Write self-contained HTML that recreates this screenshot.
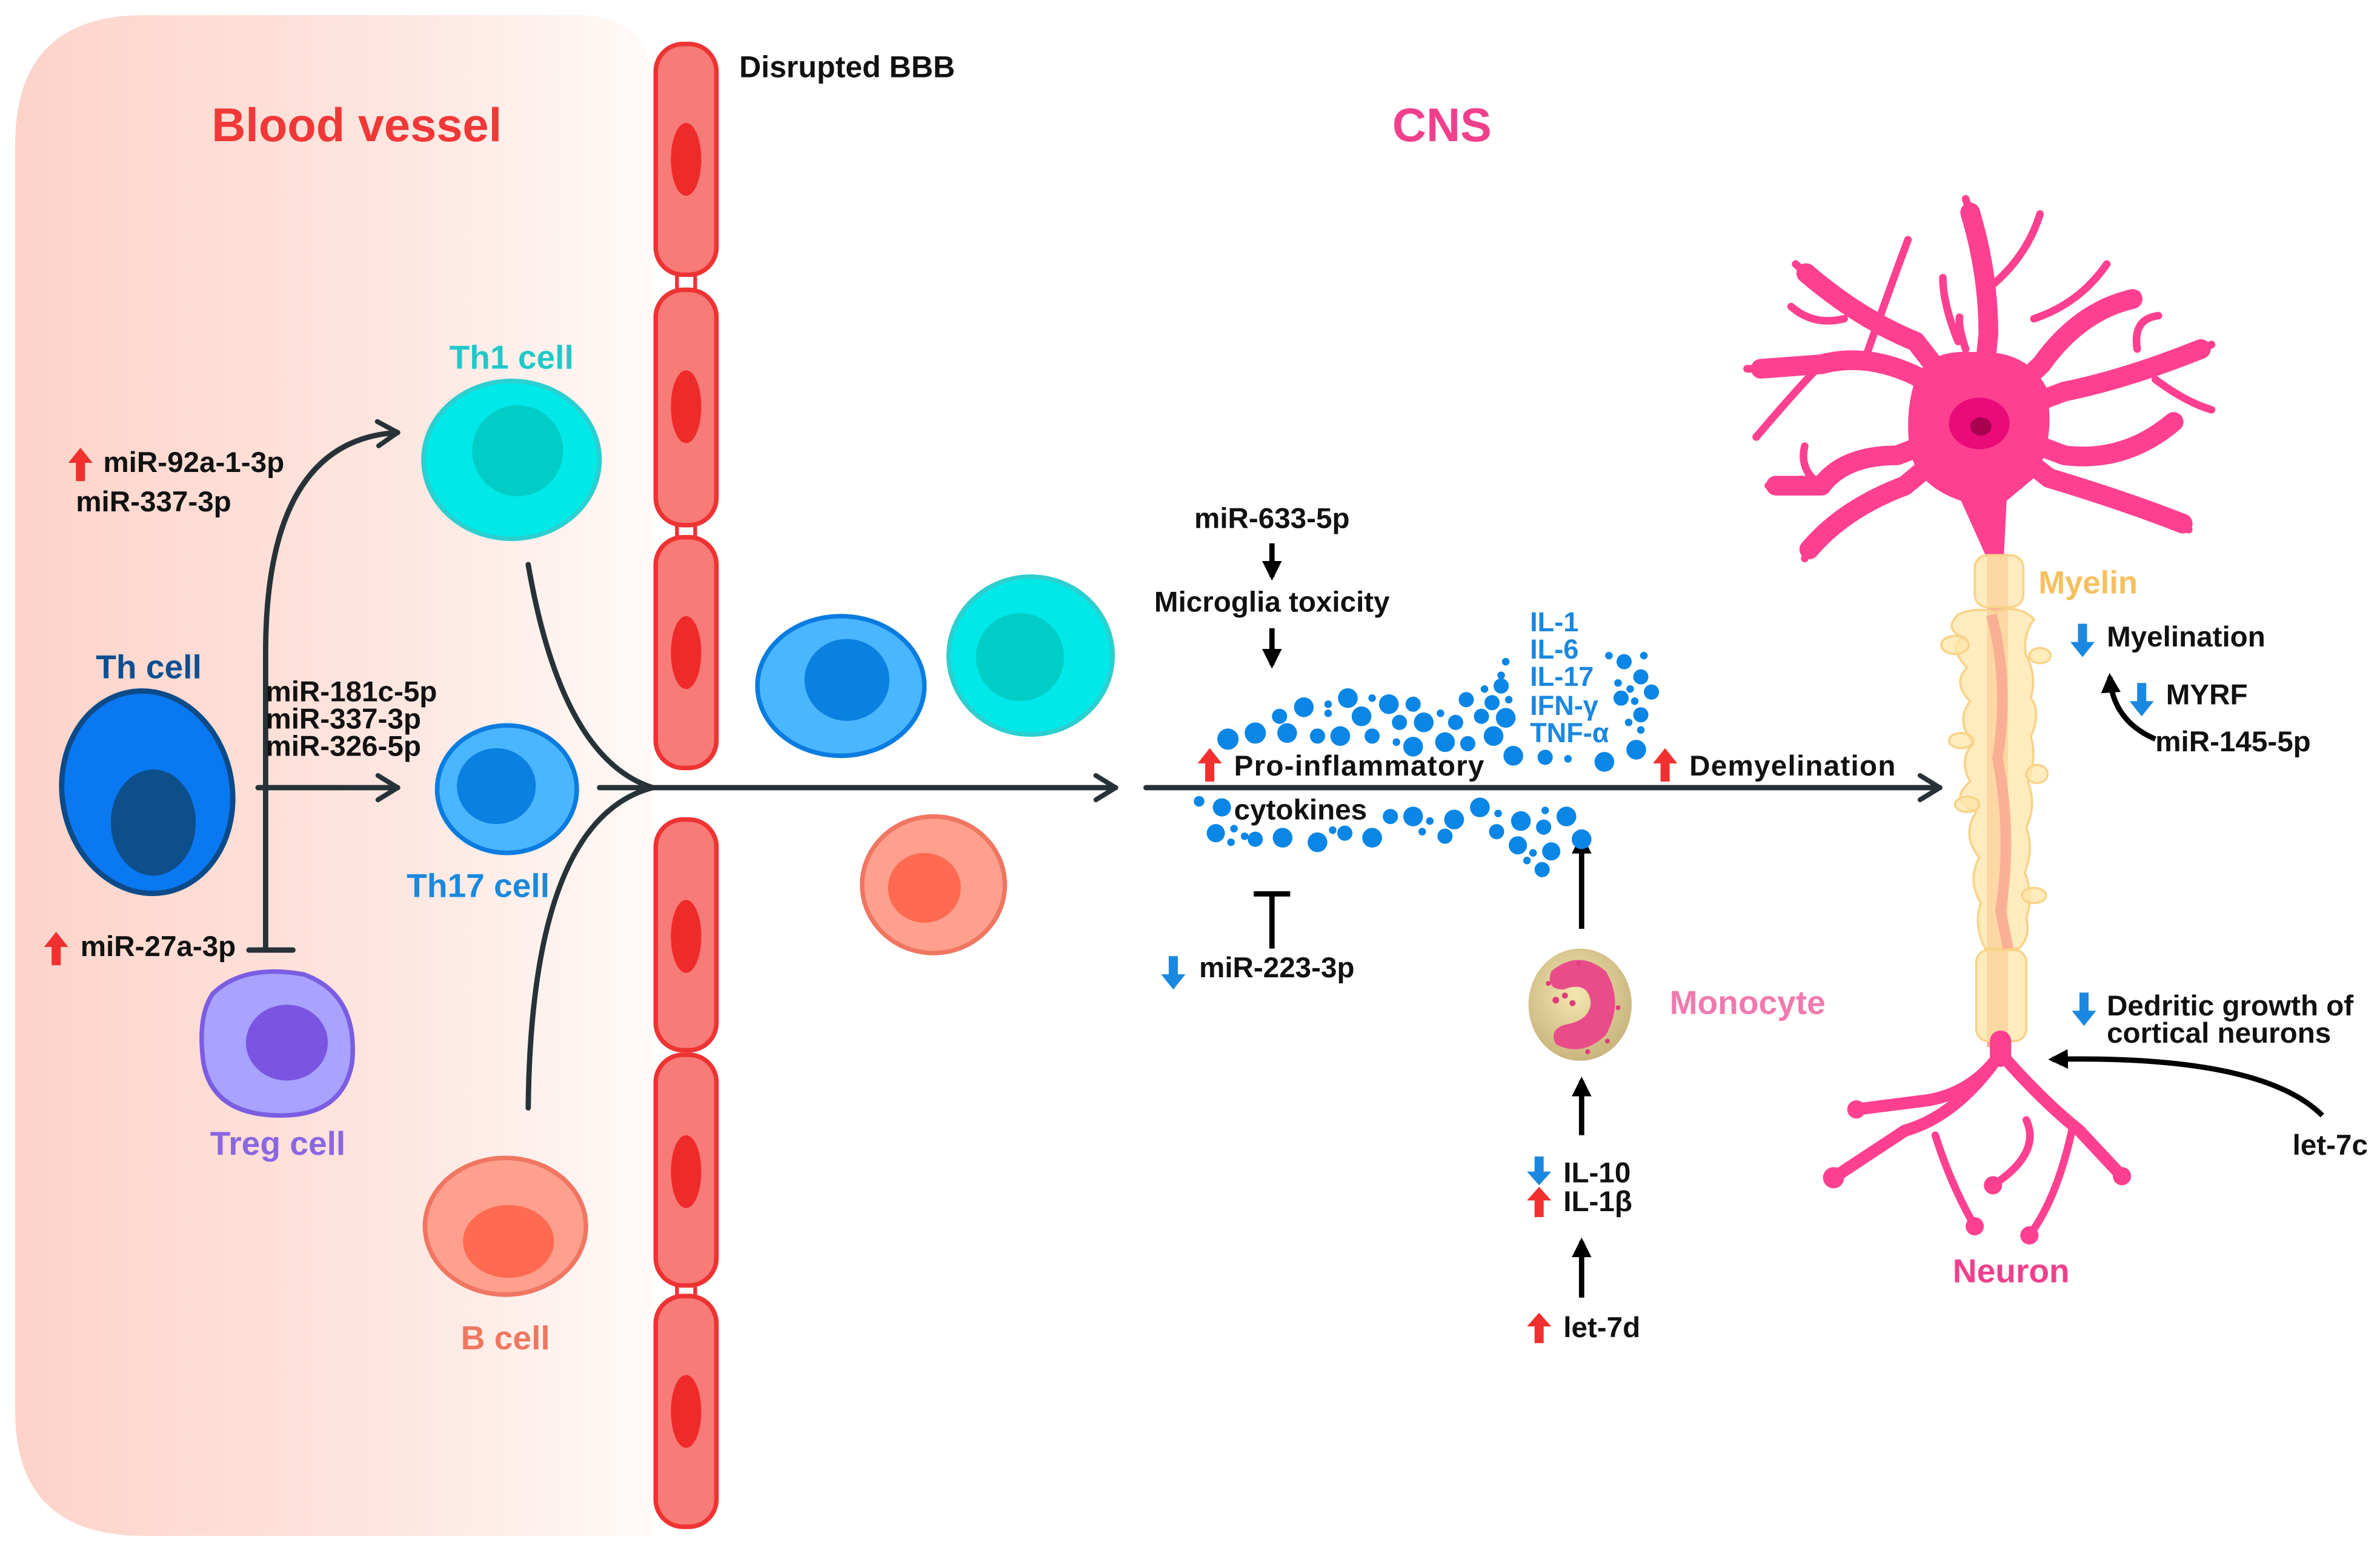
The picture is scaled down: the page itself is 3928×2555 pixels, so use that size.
<!DOCTYPE html>
<html><head><meta charset="utf-8"><style>
html,body{margin:0;padding:0;background:#fff}
svg{display:block}
text{font-family:"Liberation Sans",sans-serif;font-weight:bold}
</style></head><body>
<svg width="3928" height="2555" viewBox="0 0 1568 1020" preserveAspectRatio="none" xmlns="http://www.w3.org/2000/svg">
<defs>
<linearGradient id="bv" x1="0" x2="1" y1="0" y2="0">
<stop offset="0" stop-color="#fdd3c9"/><stop offset="0.6" stop-color="#fee6e0"/><stop offset="1" stop-color="#fffaf8"/>
</linearGradient>
<radialGradient id="mono" cx="0.45" cy="0.4" r="0.6">
<stop offset="0" stop-color="#f5e6b0"/><stop offset="1" stop-color="#c9b57e"/>
</radialGradient>
<marker id="open" viewBox="0 0 20 20" refX="16" refY="10" markerWidth="20" markerHeight="20" markerUnits="userSpaceOnUse" orient="auto">
<path d="M3,2 L16,10 L3,18" fill="none" stroke="#263238" stroke-width="3.2" stroke-linecap="round" stroke-linejoin="round"/>
</marker>
<marker id="tri" viewBox="0 0 10 10" refX="8" refY="5" markerWidth="13" markerHeight="13" markerUnits="userSpaceOnUse" orient="auto">
<path d="M0,0 L10,5 L0,10 z" fill="#000"/>
</marker>
</defs>

<path d="M10,95 Q10,10 95,10 L380,10 Q430,10 430,60 L430,1012 L95,1012 Q10,1012 10,930 Z" fill="url(#bv)"/>

<g fill="#f77b77" stroke="#ee3333" stroke-width="3">
<rect x="432" y="29" width="40" height="152" rx="18"/>
<rect x="432" y="191" width="40" height="155" rx="18"/>
<rect x="432" y="354" width="40" height="152" rx="18"/>
<rect x="432" y="540" width="40" height="152" rx="18"/>
<rect x="432" y="695" width="40" height="152" rx="18"/>
<rect x="432" y="854" width="40" height="152" rx="18"/>
</g>
<g stroke="#ee3333" stroke-width="2.5" fill="none">
<path d="M446,181 V191 M458,181 V191 M446,346 V354 M458,346 V354 M446,847 V854 M458,847 V854"/>
</g>
<g fill="#ee2a2a">
<ellipse cx="452" cy="105" rx="10" ry="24"/><ellipse cx="452" cy="268" rx="10" ry="24"/>
<ellipse cx="452" cy="430" rx="10" ry="24"/><ellipse cx="452" cy="617" rx="10" ry="24"/>
<ellipse cx="452" cy="772" rx="10" ry="24"/><ellipse cx="452" cy="930" rx="10" ry="24"/>
</g>

<text x="235" y="93" font-size="31" fill="#f03838" text-anchor="middle">Blood vessel</text>
<text x="487" y="51" font-size="20" fill="#111">Disrupted BBB</text>
<text x="950" y="93" font-size="31" fill="#f0408c" text-anchor="middle">CNS</text>

<ellipse cx="337" cy="303" rx="58" ry="52" fill="#00e8e8" stroke="#2ccfcf" stroke-width="3"/>
<ellipse cx="341" cy="297" rx="30" ry="30" fill="#00cdc6"/>
<text x="337" y="243" font-size="22" fill="#22c8c8" text-anchor="middle">Th1 cell</text>

<ellipse cx="334" cy="520" rx="46" ry="42" fill="#4ab6ff" stroke="#0a7ce0" stroke-width="3"/>
<ellipse cx="327" cy="518" rx="26" ry="25" fill="#0a80e0"/>
<text x="315" y="591" font-size="22" fill="#1a88dd" text-anchor="middle">Th17 cell</text>

<ellipse cx="97" cy="522" rx="56" ry="67" transform="rotate(-10 97 522)" fill="#0a78f0" stroke="#0c4a88" stroke-width="3.5"/>
<ellipse cx="101" cy="542" rx="28" ry="35" fill="#0c4f8a"/>
<text x="98" y="447" font-size="22" fill="#0d4f90" text-anchor="middle">Th cell</text>

<path d="M140,655 Q160,635 200,642 Q236,655 232,700 Q226,735 185,735 Q140,735 134,700 Q130,670 140,655 Z" fill="#a9a2ff" stroke="#7b5de2" stroke-width="3"/>
<ellipse cx="189" cy="687" rx="27" ry="25" fill="#7a55e2"/>
<text x="183" y="761" font-size="22" fill="#8a66e2" text-anchor="middle">Treg cell</text>

<ellipse cx="333" cy="808" rx="53" ry="45" fill="#ffa08e" stroke="#f07662" stroke-width="3"/>
<ellipse cx="335" cy="818" rx="30" ry="24" fill="#ff6a50"/>
<text x="333" y="889" font-size="22" fill="#f07660" text-anchor="middle">B cell</text>

<ellipse cx="554" cy="452" rx="55" ry="46" fill="#4ab6ff" stroke="#0a7ce0" stroke-width="3"/>
<ellipse cx="558" cy="448" rx="28" ry="27" fill="#0a80e0"/>
<ellipse cx="679" cy="432" rx="54" ry="52" fill="#00e8e8" stroke="#2ccfcf" stroke-width="3"/>
<ellipse cx="672" cy="433" rx="29" ry="29" fill="#00cdc6"/>
<ellipse cx="615" cy="583" rx="47" ry="45" fill="#ffa08e" stroke="#f07662" stroke-width="3"/>
<ellipse cx="609" cy="585" rx="24" ry="23" fill="#ff6a50"/>

<g fill="none" stroke="#263238" stroke-width="3.5" stroke-linecap="round">
<path d="M170,519 H262" marker-end="url(#open)"/>
<path d="M175,625 L175,430 Q175,290 262,285" marker-end="url(#open)"/>
<path d="M164,626 H193"/>
<path d="M348,372 Q370,500 430,519"/>
<path d="M348,730 Q350,540 430,519"/>
<path d="M395,519 H735" marker-end="url(#open)"/>
<path d="M755,519 H1278" marker-end="url(#open)"/>
</g>

<g fill="#f23030">
<path d="M50,317 V305 H45 L53,295 L61,305 H56 V317 Z"/>
<path d="M34,636 V624 H29 L37,614 L45,624 H40 V636 Z"/>
<path d="M794,515 V503 H789 L797,493 L805,503 H800 V515 Z"/>
<path d="M1094,515 V503 H1089 L1097,493 L1105,503 H1100 V515 Z"/>
<path d="M1011,802 V791 H1006 L1014,782 L1022,791 H1017 V802 Z"/>
<path d="M1011,885 V874 H1006 L1014,865 L1022,874 H1017 V885 Z"/>
</g>
<g fill="#1a88e0">
<path d="M770,630 V642 H765 L773,652 L781,642 H776 V630 Z"/>
<path d="M1369,411 V423 H1364 L1372,433 L1380,423 H1375 V411 Z"/>
<path d="M1408,450 V462 H1403 L1411,472 L1419,462 H1414 V450 Z"/>
<path d="M1370,654 V666 H1365 L1373,676 L1381,666 H1376 V654 Z"/>
<path d="M1011,762 V772 H1006 L1014,781 L1022,772 H1017 V762 Z"/>
</g>

<g font-size="19" fill="#111">
<text x="68" y="311">miR-92a-1-3p</text>
<text x="50" y="337">miR-337-3p</text>
<text x="175" y="462">miR-181c-5p</text>
<text x="175" y="480">miR-337-3p</text>
<text x="175" y="498">miR-326-5p</text>
<text x="53" y="630">miR-27a-3p</text>
<text x="838" y="348" text-anchor="middle">miR-633-5p</text>
<text x="838" y="403" text-anchor="middle">Microglia toxicity</text>
<text x="813" y="511" letter-spacing="0.5">Pro-inflammatory</text>
<text x="813" y="540">cytokines</text>
<text x="1113" y="511" letter-spacing="0.5">Demyelination</text>
<text x="790" y="644">miR-223-3p</text>
<text x="1030" y="779">IL-10</text>
<text x="1030" y="798">IL-1β</text>
<text x="1030" y="881">let-7d</text>
<text x="1388" y="426">Myelination</text>
<text x="1427" y="464">MYRF</text>
<text x="1420" y="495">miR-145-5p</text>
<text x="1388" y="669">Dedritic growth of</text>
<text x="1388" y="687">cortical neurons</text>
<text x="1560" y="761" text-anchor="end">let-7c</text>
</g>
<g font-size="18" fill="#1a88e0">
<text x="1008" y="416">IL-1</text>
<text x="1008" y="434">IL-6</text>
<text x="1008" y="452">IL-17</text>
<text x="1008" y="471">IFN-γ</text>
<text x="1008" y="489">TNF-α</text>
</g>
<text x="1100" y="668" font-size="22" fill="#f07aae">Monocyte</text>
<text x="1343" y="391" font-size="21" fill="#f6c060">Myelin</text>
<text x="1325" y="845" font-size="22" fill="#f0408c" text-anchor="middle">Neuron</text>

<g stroke="#000" stroke-width="3.5" fill="none">
<path d="M838,358 V380" marker-end="url(#tri)"/>
<path d="M838,414 V438" marker-end="url(#tri)"/>
<path d="M838,625 V589 M826,589 H850"/>
<path d="M1042,612 V552" marker-end="url(#tri)"/>
<path d="M1042,748 V712" marker-end="url(#tri)"/>
<path d="M1042,855 V818" marker-end="url(#tri)"/>
<path d="M1420,487 Q1392,475 1390,446" marker-end="url(#tri)"/>
<path d="M1530,735 Q1490,695 1352,698" marker-end="url(#tri)"/>
</g>

<g fill="#0a86e6">
<circle cx="809" cy="487" r="7"/><circle cx="827" cy="483" r="7"/><circle cx="848" cy="483" r="6.5"/><circle cx="843" cy="472" r="5"/><circle cx="859" cy="466" r="6.5"/><circle cx="868" cy="485" r="5"/><circle cx="883" cy="485" r="6.5"/><circle cx="875" cy="464" r="2.5"/><circle cx="875" cy="470" r="2.5"/><circle cx="888" cy="460" r="6.5"/><circle cx="897" cy="472" r="6.5"/><circle cx="904" cy="485" r="5"/><circle cx="904" cy="460" r="2.5"/><circle cx="915" cy="464" r="6.5"/><circle cx="922" cy="476" r="5"/><circle cx="931" cy="464" r="5"/><circle cx="938" cy="476" r="6.5"/><circle cx="931" cy="492" r="6.5"/><circle cx="920" cy="489" r="2.5"/><circle cx="949" cy="470" r="2.5"/><circle cx="952" cy="489" r="6.5"/><circle cx="959" cy="476" r="5"/><circle cx="967" cy="490" r="5"/><circle cx="966" cy="461" r="5"/><circle cx="976" cy="472" r="5"/><circle cx="983" cy="463" r="5"/><circle cx="984" cy="485" r="6.5"/><circle cx="992" cy="473" r="6.5"/><circle cx="978" cy="454" r="2.5"/><circle cx="989" cy="452" r="5"/><circle cx="989" cy="445" r="2.5"/><circle cx="992" cy="436" r="2.5"/><circle cx="994" cy="461" r="2.5"/><circle cx="997" cy="498" r="6.5"/><circle cx="1018" cy="499" r="5"/><circle cx="1033" cy="500" r="2.5"/><circle cx="1057" cy="502" r="6.5"/><circle cx="1078" cy="494" r="6.5"/><circle cx="1081" cy="471" r="5"/><circle cx="1081" cy="446" r="5"/><circle cx="1088" cy="456" r="5"/><circle cx="1070" cy="436" r="5"/><circle cx="1060" cy="432" r="2.5"/><circle cx="1083" cy="432" r="2.5"/><circle cx="1066" cy="450" r="2.5"/><circle cx="1074" cy="454" r="2.5"/><circle cx="1068" cy="460" r="5"/><circle cx="1077" cy="462" r="2.5"/><circle cx="1073" cy="476" r="2.5"/><circle cx="1081" cy="481" r="2.5"/>
<circle cx="790" cy="528" r="3.5"/><circle cx="805" cy="532" r="6"/><circle cx="801" cy="549" r="6"/><circle cx="813" cy="546" r="2.5"/><circle cx="811" cy="555" r="2.5"/><circle cx="820" cy="551" r="2.5"/><circle cx="827" cy="553" r="5"/><circle cx="845" cy="552" r="6.5"/><circle cx="868" cy="555" r="6.5"/><circle cx="878" cy="547" r="2.5"/><circle cx="886" cy="549" r="5"/><circle cx="904" cy="552" r="6.5"/><circle cx="916" cy="538" r="5"/><circle cx="931" cy="538" r="6.5"/><circle cx="942" cy="541" r="2.5"/><circle cx="937" cy="548" r="2.5"/><circle cx="958" cy="540" r="6.5"/><circle cx="952" cy="551" r="5"/><circle cx="975" cy="532" r="6.5"/><circle cx="987" cy="536" r="2.5"/><circle cx="1002" cy="541" r="6.5"/><circle cx="986" cy="548" r="5"/><circle cx="1018" cy="534" r="2.5"/><circle cx="1017" cy="545" r="5"/><circle cx="1032" cy="538" r="6.5"/><circle cx="1042" cy="553" r="6.5"/><circle cx="1000" cy="557" r="6"/><circle cx="1022" cy="561" r="6"/><circle cx="1010" cy="562" r="2.5"/><circle cx="1006" cy="567" r="2.5"/><circle cx="1016" cy="573" r="5"/>
</g>

<ellipse cx="1041" cy="662" rx="34" ry="37" fill="url(#mono)"/>
<path d="M1022,640 Q1040,625 1058,640 Q1070,660 1058,682 Q1042,697 1025,688 Q1020,678 1032,675 Q1048,672 1048,660 Q1046,646 1030,652 Q1018,652 1022,640 Z" fill="#e84d89"/>
<g fill="#e03c78"><circle cx="1025" cy="659" r="2.2"/><circle cx="1031" cy="656" r="2"/><circle cx="1036" cy="661" r="2"/><circle cx="1020" cy="648" r="1.6"/><circle cx="1066" cy="664" r="1.6"/><circle cx="1059" cy="686" r="1.6"/><circle cx="1046" cy="693" r="1.6"/><circle cx="1040" cy="635" r="1.6"/></g>

<!-- neuron upper -->
<g fill="none" stroke="#ff4090" stroke-linecap="round" stroke-linejoin="round">
<g stroke-width="13">
<path d="M1304,279 L1263,248 Q1230,232 1200,240 L1160,243"/>
<path d="M1304,279 L1250,300 Q1215,300 1200,320 L1170,320"/>
<path d="M1304,279 L1262,225 Q1225,210 1190,180"/>
<path d="M1304,279 L1310,220 Q1310,180 1298,140"/>
<path d="M1304,279 L1345,240 Q1370,205 1405,197"/>
<path d="M1304,279 L1360,258 Q1400,250 1450,230"/>
<path d="M1304,279 L1360,300 Q1400,305 1432,278"/>
<path d="M1304,279 L1350,315 Q1400,330 1438,345"/>
<path d="M1304,279 L1255,320 Q1215,335 1192,362"/>
</g>
<g stroke-width="5">
<path d="M1200,240 Q1185,255 1157,288"/>
<path d="M1230,233 Q1245,190 1257,158"/>
<path d="M1215,210 Q1195,215 1180,202"/>
<path d="M1290,225 Q1280,200 1280,183"/>
<path d="M1295,230 Q1290,215 1291,209"/>
<path d="M1310,190 Q1335,170 1344,141"/>
<path d="M1340,210 Q1370,200 1388,174"/>
<path d="M1408,230 Q1405,210 1422,208"/>
<path d="M1420,250 Q1440,265 1457,270"/>
<path d="M1200,320 Q1185,310 1189,294"/>
<path d="M1160,243 L1151,243 M1190,180 L1183,174 M1298,140 L1295,131 M1405,197 L1408,194 M1450,230 L1457,227 M1438,345 L1442,349 M1192,362 L1189,368 M1170,320 L1165,320"/>
</g>
</g>
<path d="M1262,250 Q1270,230 1300,232 Q1335,230 1348,255 Q1355,290 1340,315 L1322,330 L1320,370 L1310,370 L1292,330 Q1262,320 1258,295 Q1255,270 1262,250 Z" fill="#ff4090"/>
<ellipse cx="1304" cy="279" rx="20" ry="17" fill="#ea0a78"/>
<ellipse cx="1305" cy="281" rx="7" ry="6" fill="#a8004e"/>

<!-- axon + myelin -->
<rect x="1309" y="365" width="14" height="325" fill="#f9b09a"/>
<g fill="#fde5a8" fill-opacity="0.75" stroke="#f9d38a" stroke-width="1.5">
<rect x="1301" y="366" width="32" height="34" rx="8"/>
<rect x="1302" y="626" width="33" height="60" rx="8"/>
<path d="M1290,405 Q1300,400 1315,403 Q1330,398 1340,408 Q1332,420 1335,432 Q1342,445 1338,460 Q1345,470 1338,485 Q1342,500 1336,515 Q1342,530 1335,545 Q1340,560 1334,575 Q1340,590 1335,605 Q1338,618 1330,625 L1308,625 Q1300,610 1305,595 Q1296,580 1304,565 Q1292,550 1302,535 Q1283,528 1298,515 Q1290,500 1300,490 Q1288,475 1298,462 Q1286,450 1296,440 Q1282,425 1294,420 Q1280,415 1290,405 Z"/>
<ellipse cx="1288" cy="425" rx="9" ry="6"/>
<ellipse cx="1344" cy="432" rx="7" ry="5"/>
<ellipse cx="1292" cy="488" rx="8" ry="5"/>
<ellipse cx="1342" cy="510" rx="7" ry="6"/>
<ellipse cx="1296" cy="530" rx="8" ry="5"/>
<ellipse cx="1340" cy="590" rx="8" ry="5"/>
</g>
<path d="M1312,405 Q1324,450 1316,500 Q1326,550 1318,600 L1323,625" fill="none" stroke="#f9a890" stroke-width="7" opacity="0.85"/>

<!-- neuron lower -->
<g fill="none" stroke="#ff4090" stroke-linecap="round" stroke-linejoin="round">
<path d="M1318,686 V696" stroke-width="14"/>
<g stroke-width="8">
<path d="M1318,694 Q1300,720 1270,725 L1223,731"/>
<path d="M1318,694 Q1290,735 1255,745 L1208,776"/>
<path d="M1318,694 Q1345,725 1370,745 L1398,775"/>
</g>
<g stroke-width="5">
<path d="M1275,748 Q1285,780 1301,808"/>
<path d="M1335,738 Q1345,760 1313,781"/>
<path d="M1365,745 Q1355,790 1337,814"/>
</g>
</g>
<g fill="#ff4090"><circle cx="1223" cy="731" r="6"/><circle cx="1208" cy="776" r="7"/><circle cx="1301" cy="808" r="6"/><circle cx="1313" cy="781" r="6"/><circle cx="1337" cy="814" r="6"/><circle cx="1398" cy="775" r="6"/></g>
</svg>
</body></html>
